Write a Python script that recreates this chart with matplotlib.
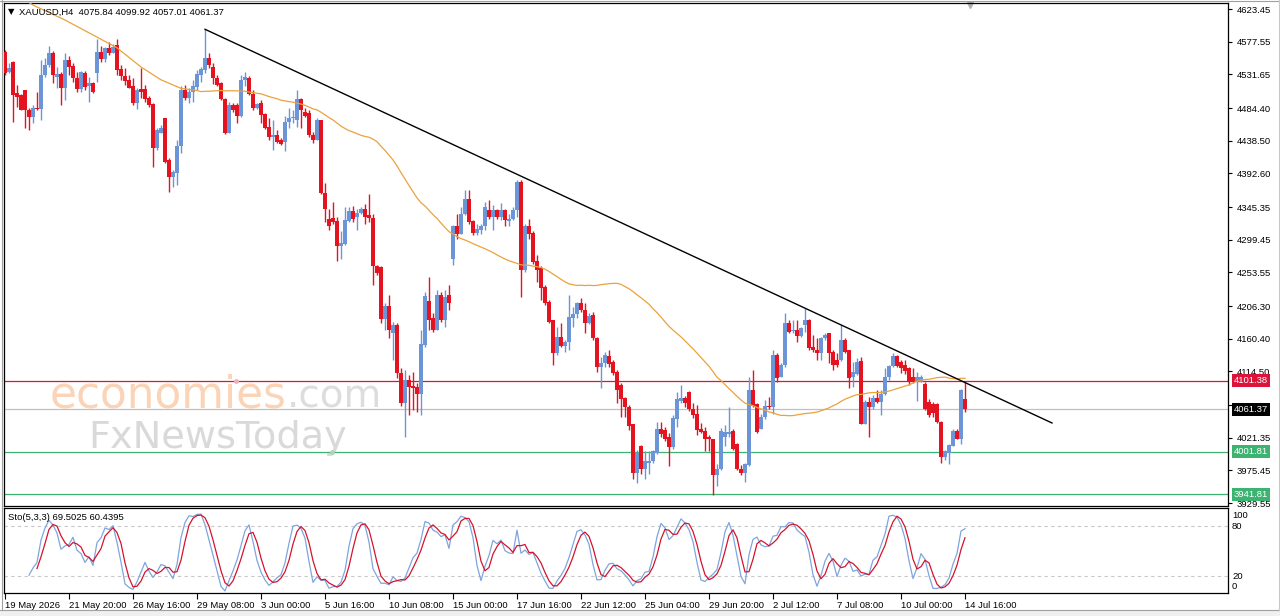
import numpy as np
import pandas as pd
import matplotlib
matplotlib.use("Agg")
import matplotlib.pyplot as plt
import matplotlib.transforms as mtransforms
from matplotlib.patches import Rectangle
from matplotlib.lines import Line2D

plt.rcParams['font.family'] = ['Liberation Sans', 'DejaVu Sans']

# ---- data: XAUUSD H4 candles ----
opens = [4563, 4535, 4549, 4505, 4503, 4510, 4482, 4472, 4485, 4483,
         4531, 4545, 4561, 4528, 4532, 4513, 4552, 4543, 4526, 4511,
         4533, 4515, 4519, 4533, 4563, 4553, 4568, 4562, 4573, 4539,
         4529, 4524, 4515, 4491, 4511, 4511, 4499, 4490, 4428, 4450,
         4470, 4411, 4388, 4393, 4431, 4510, 4498, 4507, 4514, 4531,
         4538, 4554, 4542, 4526, 4519, 4497, 4450, 4489, 4489, 4473,
         4524, 4527, 4504, 4485, 4491, 4476, 4458, 4443, 4446, 4440,
         4436, 4465, 4470, 4468, 4497, 4479, 4478, 4446, 4440, 4467,
         4365, 4329, 4330, 4326, 4290, 4294, 4326, 4340, 4332, 4337,
         4343, 4334, 4330, 4262, 4261, 4188, 4206, 4169, 4180, 4112,
         4070, 4102, 4094, 4093, 4083, 4152, 4214, 4189, 4173, 4222,
         4187, 4222, 4273, 4318, 4308, 4336, 4356, 4326, 4309, 4313,
         4318, 4341, 4332, 4341, 4332, 4341, 4326, 4329, 4341, 4381,
         4257, 4319, 4309, 4270, 4259, 4233, 4212, 4186, 4140, 4163,
         4150, 4156, 4189, 4195, 4210, 4201, 4182, 4194, 4161, 4121,
         4126, 4136, 4128, 4114, 4095, 4077, 4065, 4040, 3972, 4010,
         3977, 3986, 3988, 4000, 4034, 4032, 4023, 4008, 4047, 4073,
         4077, 4085, 4062, 4055, 4033, 4031, 4023, 4019, 3969, 3978,
         4022, 4026, 4031, 4012, 3978, 3972, 3983, 4089, 4069, 4034,
         4050, 4066, 4064, 4137, 4107, 4123, 4183, 4171, 4173, 4164,
         4180, 4186, 4149, 4145, 4141, 4161, 4168, 4142, 4131, 4130,
         4158, 4145, 4107, 4111, 4129, 4041, 4072, 4064, 4077, 4072,
         4083, 4106, 4122, 4136, 4127, 4123, 4119, 4106, 4101, 4100,
         4097, 4072, 4069, 4069, 4044, 3994, 4000, 4010, 4031, 4020,
         4075.84]
highs = [4566, 4547, 4550, 4517, 4504, 4510, 4484, 4489, 4507, 4552,
         4554, 4571, 4565, 4542, 4535, 4561, 4557, 4547, 4535, 4536,
         4536, 4528, 4521, 4581, 4571, 4570, 4577, 4575, 4581, 4545,
         4540, 4531, 4526, 4512, 4540, 4517, 4501, 4491, 4456, 4460,
         4470, 4414, 4397, 4439, 4515, 4517, 4513, 4524, 4538, 4542,
         4595, 4561, 4547, 4531, 4521, 4498, 4493, 4491, 4491, 4531,
         4535, 4530, 4510, 4492, 4496, 4478, 4470, 4468, 4453, 4442,
         4473, 4484, 4482, 4510, 4498, 4484, 4482, 4451, 4470, 4468,
         4379, 4343, 4353, 4332, 4312, 4346, 4346, 4347, 4343, 4346,
         4350, 4364, 4336, 4264, 4262, 4210, 4222, 4184, 4182, 4119,
         4116, 4109, 4113, 4098, 4172, 4226, 4247, 4196, 4229, 4226,
         4229, 4236, 4320, 4336, 4345, 4369, 4369, 4327, 4321, 4322,
         4353, 4355, 4348, 4343, 4351, 4343, 4336, 4346, 4383, 4383,
         4322, 4329, 4311, 4278, 4262, 4236, 4215, 4187, 4177, 4182,
         4159, 4222, 4205, 4212, 4217, 4210, 4196, 4198, 4163, 4135,
         4142, 4145, 4130, 4116, 4098, 4079, 4067, 4041, 4004, 4011,
         4002, 4002, 4004, 4044, 4044, 4036, 4028, 4053, 4086, 4095,
         4080, 4087, 4070, 4067, 4042, 4036, 4025, 4020, 3985, 4035,
         4039, 4065, 4033, 4014, 3983, 3986, 4107, 4116, 4070, 4055,
         4074, 4079, 4144, 4140, 4126, 4196, 4187, 4186, 4187, 4177,
         4203, 4188, 4165, 4161, 4163, 4168, 4169, 4145, 4140, 4180,
         4161, 4145, 4128, 4133, 4135, 4074, 4079, 4081, 4088, 4088,
         4119, 4123, 4140, 4137, 4130, 4130, 4121, 4119, 4114, 4110,
         4099, 4076, 4071, 4070, 4045, 4004, 4013, 4034, 4034, 4090,
         4099.92]
lows = [4531, 4533, 4465, 4486, 4481, 4456, 4454, 4463, 4482, 4468,
        4528, 4542, 4519, 4512, 4489, 4496, 4531, 4521, 4507, 4507,
        4510, 4493, 4505, 4521, 4549, 4549, 4559, 4561, 4531, 4524,
        4517, 4512, 4489, 4483, 4498, 4493, 4486, 4402, 4426, 4449,
        4407, 4367, 4374, 4376, 4421, 4496, 4491, 4493, 4510, 4521,
        4533, 4540, 4518, 4515, 4495, 4448, 4449, 4479, 4463, 4472,
        4515, 4502, 4482, 4483, 4463, 4455, 4439, 4425, 4435, 4432,
        4424, 4456, 4463, 4458, 4457, 4472, 4444, 4435, 4439, 4364,
        4325, 4313, 4322, 4269, 4273, 4292, 4325, 4325, 4313, 4336,
        4322, 4325, 4236, 4250, 4182, 4172, 4161, 4131, 4105, 4066,
        4023, 4053, 4060, 4058, 4053, 4149, 4172, 4170, 4172, 4184,
        4177, 4200, 4264, 4301, 4307, 4334, 4321, 4306, 4306, 4308,
        4313, 4329, 4313, 4329, 4327, 4318, 4318, 4327, 4332, 4219,
        4254, 4301, 4266, 4240, 4215, 4208, 4182, 4123, 4137, 4149,
        4142, 4145, 4177, 4189, 4198, 4169, 4181, 4159, 4114, 4091,
        4121, 4121, 4109, 4070, 4051, 4050, 4032, 3964, 3958, 3970,
        3964, 3971, 3986, 3998, 4023, 4017, 3982, 4006, 4036, 4070,
        4065, 4059, 4049, 4025, 4028, 4002, 4002, 3941, 3953, 3976,
        4009, 4023, 4004, 3976, 3969, 3959, 3982, 4065, 4028, 4033,
        4048, 4061, 4055, 4100, 4106, 4121, 4169, 4168, 4156, 4163,
        4170, 4144, 4142, 4130, 4130, 4158, 4126, 4116, 4121, 4129,
        4140, 4091, 4093, 4109, 4040, 4040, 4022, 4062, 4070, 4053,
        4081, 4103, 4121, 4121, 4112, 4111, 4095, 4098, 4073, 4099,
        4060, 4051, 4050, 4042, 3986, 3990, 3984, 4009, 4019, 4013,
        4057.01]
closes = [4533, 4541, 4503, 4500, 4482, 4482, 4472, 4485, 4483, 4531,
          4545, 4561, 4531, 4532, 4512, 4552, 4542, 4526, 4511, 4535,
          4514, 4520, 4507, 4563, 4553, 4568, 4561, 4570, 4538, 4529,
          4523, 4513, 4491, 4509, 4507, 4497, 4489, 4428, 4453, 4457,
          4409, 4388, 4394, 4431, 4510, 4498, 4507, 4515, 4532, 4539,
          4554, 4545, 4526, 4517, 4497, 4450, 4489, 4482, 4473, 4524,
          4528, 4504, 4484, 4490, 4475, 4457, 4444, 4446, 4437, 4434,
          4465, 4470, 4472, 4497, 4482, 4473, 4446, 4440, 4467, 4365,
          4342, 4318, 4325, 4290, 4295, 4327, 4340, 4329, 4337, 4343,
          4332, 4330, 4262, 4253, 4188, 4206, 4173, 4180, 4112, 4070,
          4102, 4093, 4091, 4083, 4153, 4220, 4187, 4173, 4222, 4187,
          4219, 4211, 4318, 4308, 4336, 4357, 4325, 4309, 4314, 4318,
          4346, 4332, 4341, 4332, 4341, 4327, 4329, 4341, 4381, 4257,
          4319, 4307, 4268, 4257, 4231, 4210, 4184, 4140, 4163, 4150,
          4156, 4191, 4195, 4210, 4201, 4182, 4192, 4161, 4121, 4126,
          4137, 4125, 4112, 4088, 4075, 4064, 4038, 3972, 4000, 3977,
          3988, 3989, 4002, 4034, 4027, 4019, 4008, 4049, 4075, 4077,
          4070, 4061, 4053, 4032, 4030, 4019, 4019, 3969, 3978, 4031,
          4029, 4030, 4006, 3978, 3972, 3985, 4089, 4066, 4030, 4051,
          4066, 4064, 4137, 4105, 4123, 4183, 4170, 4173, 4164, 4175,
          4187, 4147, 4144, 4140, 4161, 4166, 4141, 4123, 4123, 4158,
          4142, 4105, 4113, 4128, 4041, 4072, 4064, 4077, 4071, 4083,
          4106, 4122, 4136, 4122, 4119, 4115, 4099, 4100, 4107, 4107,
          4062, 4053, 4056, 4044, 3994, 4002, 4011, 4031, 4020, 4088,
          4061.37]

# moving average before enough bars are on screen
ma_early_idx = [4, 7, 15, 23, 28, 34, 39, 44, 48]
ma_early_vals = [4640, 4629, 4608, 4584, 4569, 4542, 4524, 4512, 4509]
ma_period = 50

# drawn objects
trend_start = (50, 4595)
trend_end = (261.75, 4042)
resistance_level = 4101.38
bid_level = 4061.37
support_levels = [4001.81, 3941.81]

price_ticks = [4623.45, 4577.55, 4531.65, 4484.40, 4438.50, 4392.60, 4345.35,
               4299.45, 4253.55, 4206.30, 4160.40, 4114.50, 4067.25, 4021.35,
               3975.45, 3929.55]
date_idx = [0, 16, 32, 48, 64, 80, 96, 112, 128, 144, 160, 176, 192, 208, 224, 240]
date_labels = ['19 May 2026', '21 May 20:00', '26 May 16:00', '29 May 08:00',
               '3 Jun 00:00', '5 Jun 16:00', '10 Jun 08:00', '15 Jun 00:00',
               '17 Jun 16:00', '22 Jun 12:00', '25 Jun 04:00', '29 Jun 20:00',
               '2 Jul 12:00', '7 Jul 08:00', '10 Jul 00:00', '14 Jul 16:00']
sto_levels = [20, 80]

BULL = '#6C95D8'
BEAR = '#E3141F'
W, H = 1280, 616


def stochastic(h, l, c, k=5, d=3, slowing=3):
    h, l, c = pd.Series(h), pd.Series(l), pd.Series(c)
    hh = h.rolling(k).max()
    ll = l.rolling(k).min()
    num = (c - ll).rolling(slowing).sum()
    den = (hh - ll).rolling(slowing).sum()
    main = 100 * num / den
    signal = main.rolling(d).mean()
    return main.values, signal.values


o = np.array(opens, dtype=float)
hi = np.array(highs, dtype=float)
lo = np.array(lows, dtype=float)
cl = np.array(closes, dtype=float)
idx = np.arange(len(cl))

fig = plt.figure(figsize=(W / 100, H / 100), dpi=100)
fig.patch.set_facecolor('white')

# pixel layout of the terminal window
ax = fig.add_axes([4 / W, 1 - 506 / H, 1224 / W, 503 / H])
ax_s = fig.add_axes([4 / W, 1 - 593 / H, 1224 / W, 85 / H])

x_lo, x_hi = (4 - 5) / 4, (1228 - 5) / 4
for a in (ax, ax_s):
    a.set_xlim(x_lo, x_hi)
    for sp in a.spines.values():
        sp.set_linewidth(0.9)
ax.set_ylim(3925.4, 4631.9)

# candles
up = cl >= o
for mask, col in ((up, BULL), (~up, BEAR)):
    ax.vlines(idx[mask], lo[mask], hi[mask], color=col, lw=1.0, zorder=3)
    body_lo = np.minimum(o, cl)[mask]
    body_h = np.maximum(np.abs(cl - o)[mask], 1.4)
    ax.bar(idx[mask], body_h, bottom=body_lo, width=0.76, color=col,
           linewidth=0, zorder=4)

# moving average
ma = pd.Series(cl).rolling(ma_period).mean().values
ma_x = list(ma_early_idx) + list(idx[ma_period - 1:])
ma_y = list(ma_early_vals) + list(ma[ma_period - 1:])
ax.plot(ma_x, ma_y, color='#EBA23A', lw=0.9, zorder=5)

# trend line and horizontal levels
ax.plot([trend_start[0], trend_end[0]], [trend_start[1], trend_end[1]],
        color='black', lw=1.0, zorder=6)
ax.axhline(resistance_level, color='#DC143C', lw=0.9, zorder=2)
ax.axhline(bid_level, color='#C0C0C0', lw=0.9, zorder=2)
for lvl in support_levels:
    ax.axhline(lvl, color='#3CB371', lw=0.9, zorder=2)
ax.plot([57.75], [resistance_level], marker='o', ms=2.5, color='#F0B0B8', zorder=2)
ax.plot([81.75], [support_levels[0]], marker='o', ms=2.5, color='#A8D8B8', zorder=2)

# right price scale
ax.yaxis.tick_right()
ax.set_yticks(price_ticks)
ax.set_yticklabels([f'{p:.2f}' for p in price_ticks])
ax.tick_params(axis='y', length=3, width=0.8, pad=3, labelsize=6.8)
ax.set_xticks([])

trans = mtransforms.blended_transform_factory(ax.transAxes, ax.transData)
tags = [(resistance_level, '#DC143C'), (bid_level, 'black'),
        (support_levels[0], '#3CB371'), (support_levels[1], '#3CB371')]
for val, col in tags:
    ax.text(1 + 6 / 1224, val, f'{val:.2f}', transform=trans, va='center',
            ha='left', fontsize=6.8, color='white', clip_on=False, zorder=10,
            bbox=dict(boxstyle='square,pad=0.22', facecolor=col, edgecolor='none'))

# shift marker
ax.plot([241.25], [4629.5], marker='v', ms=5, color='#B0B0B0', clip_on=False)

# watermark
r = fig.canvas.get_renderer()
t1 = fig.text(50 / W, 1 - 407 / H, 'economies', fontsize=31.5, color='#FBD3B6',
              family='DejaVu Sans', zorder=0)
bb = t1.get_window_extent(r)
fig.text(bb.x1 / W, 1 - 407 / H, '.com', fontsize=28, color='#DDDDDD',
         family='DejaVu Sans', zorder=0)
fig.text(88 / W, 1 - 448 / H, 'FxNewsToday', fontsize=27.5, color='#D9D9D9',
         family='DejaVu Sans', zorder=0)
ax.set_zorder(2)
ax.patch.set_alpha(0)

# headers
fig.text(8 / W, 1 - 12 / H, '\u25bc', fontsize=6, va='center', family='DejaVu Sans')
fig.text(19 / W, 1 - 12 / H, 'XAUUSD,H4  4075.84 4099.92 4057.01 4061.37',
         fontsize=6.8, va='center')
fig.text(8 / W, 1 - 517 / H, 'Sto(5,3,3) 69.5025 60.4395', fontsize=6.8, va='center')

# stochastic sub-window
main, signal = stochastic(hi, lo, cl)
ax_s.set_ylim(-0.4, 101.6)
for lvl in sto_levels:
    ax_s.axhline(lvl, color='#C8C8C8', lw=0.8, ls=(0, (3, 3)))
ax_s.plot(idx, main, color='#7FA5DE', lw=0.9)
ax_s.plot(idx, signal, color='#D3142E', lw=0.9)
ax_s.set_yticks([])
strans = mtransforms.blended_transform_factory(ax_s.transAxes, ax_s.transData)
for val, pos in ((100, 92), (80, 79), (20, 19), (0, 7)):
    ax_s.text(1 + 4 / 1224, pos, str(val), transform=strans, va='center',
              ha='left', fontsize=6.8, clip_on=False)
ax_s.set_xticks(date_idx)
ax_s.set_xticklabels(date_labels, ha='left')
ax_s.tick_params(axis='x', length=4, width=0.8, pad=1.5, labelsize=6.8)

# window frame
fig.add_artist(Rectangle((0, 0), 1, 6 / H, transform=fig.transFigure,
                         facecolor='#F0F0F0', edgecolor='none'))
fig.add_artist(Line2D([0, 1], [6 / H, 6 / H], transform=fig.transFigure,
                      color='#A0A0A0', lw=0.8))
fig.add_artist(Line2D([1.5 / W, 1.5 / W], [6 / H, 1], transform=fig.transFigure,
                      color='#A0A0A0', lw=0.8))
fig.add_artist(Line2D([0, 1], [1 - 1 / H, 1 - 1 / H], transform=fig.transFigure,
                      color='#A0A0A0', lw=0.8))
fig.add_artist(Line2D([1 - 1.5 / W, 1 - 1.5 / W], [6 / H, 1], transform=fig.transFigure,
                      color='#C8C8C8', lw=0.8))

fig.savefig('out.png', dpi=100)
